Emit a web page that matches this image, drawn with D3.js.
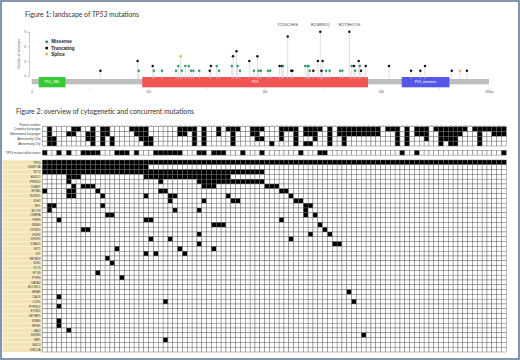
<!DOCTYPE html>
<html>
<head>
<meta charset="utf-8">
<script src="https://cdn.jsdelivr.net/npm/d3@7"></script>
<style>
  body { margin: 0; background: #fff; }
  svg { display: block; }
</style>
</head>
<body>
<div id="chart"></div>
<script>
// ---- Figure 1: TP53 lollipop data ----
const proteinLength = 393;
const mutPos   = [59, 91, 92, 104, 105, 112, 124, 126, 128, 129, 132, 135, 137, 139, 144, 153, 154, 159, 161, 172, 173, 176, 177, 179, 187, 191, 194, 195, 197, 203, 205, 213, 215, 216, 220, 223, 224, 235, 237, 238, 239, 242, 246, 248, 250, 249, 253, 256, 265, 267, 273, 275, 277, 278, 281, 282, 283, 287, 307, 326, 334, 338, 361, 368, 374];
const mutCount = [1, 3, 1, 2, 1, 1, 1, 2, 4, 1, 2, 2, 1, 1, 1, 1, 2, 2, 1, 2, 4, 5, 2, 1, 3, 1, 4, 1, 1, 1, 1, 2, 2, 2, 8, 1, 1, 2, 2, 2, 1, 1, 3, 9, 3, 1, 1, 1, 1, 1, 9, 2, 2, 1, 3, 2, 1, 2, 2, 1, 1, 2, 1, 1, 1];
const mutType  = ["T", "T", "M", "T", "M", "M", "M", "M", "S", "M", "M", "M", "M", "M", "M", "T", "T", "M", "M", "M", "T", "T", "M", "M", "T", "M", "T", "M", "M", "M", "M", "T", "T", "M", "T", "T", "T", "M", "M", "M", "M", "T", "T", "T", "T", "T", "M", "M", "M", "M", "T", "M", "T", "M", "T", "M", "T", "T", "T", "T", "T", "T", "T", "S", "T"];
const hotspotPos    = [220, 248, 273];
const hotspotLabels = ["Y220C/H/S", "R248W/Q", "R273H/C/G"];
const domainNames  = ["P53_TAD", "P53", "P53_tetramer"];
const domainStart  = [6, 95, 318];
const domainEnd    = [29, 289, 359];
const legendNames  = ["Missense", "Truncating", "Splice"];
const legendKeys   = ["M", "T", "S"];

// ---- Figure 2: cytogenetics / co-mutation grid ----
const nPatients = 96;
const headerNames = ["Complex karyotype", "Monosomal karyotype", "Abnormality 5/5q", "Abnormality 17p"];
const complexKaryo   = "1,6,7,10,12,13,18-21,28-31,33,36,38-40,43-45,49-52,54-57,59,61-69,71-73,75,77-79,81-87,89-95";
const monosomalKaryo = "1,5,6,9,10,12,13,19-21,28,29,31,33,36,39,43,44,49,52,54-56,59,61-69,73,75,77-79,82-86,90,93-95";
const abn5           = "1,2,9,10,12,14,20-22,31,33,39,44,45,49,52,56,59,62,73,75,79,82-85,90";
const abn17p         = "1,2,10,12,14,21,22,31,33,39,47,52,54,55,59,62,73,75,82,84,85,90";
const tp53Status     = "0,3,5,8-11,15-17,19,23-28,32,33,35-37,41,45,53,57,58,74,77,95";

const geneNames = ["TP53", "DNMT3A", "TET2", "ASXL1", "PPM1D", "U2AF1", "SF3B1", "RUNX1", "IDH2", "NF1",
  "BCOR", "CEBPA", "PHF6", "NRAS", "ZRSR2", "EZH2", "SRSF2", "STAG2", "WT1", "KIT",
  "ZBTB33", "IDH1", "FLT3", "ETV6", "PTEN", "GATA2", "BCORL1", "BRAF", "CALR", "CUX1",
  "PTPN11", "ETNK1", "SETBP1", "KRAS", "NPM1", "JAK2", "SH2B3", "MPL", "SMC3", "SMC1A"];
const geneHits = ["0-95", "0-21", "0-45", "5-7,21-38", "5,24,32-45", "6,8-10,33-35,46-48", "0,5,6,11,24,25,49,50",
  "5,6,12,21,26,27,38,51", "26,33,39,40,52,53", "1,2,12,54,55",
  "1,27,32,54", "13,14,54,56", "3,21,22,49", "35-37,57", "8,9,58", "32,55,59", "22,26,51", "32,60,61", "15,28,35", "21,23,29",
  "13", "14", "", "11", "16", "", "", "63", "3", "25,64",
  "3", "", "", "3", "3", "5", "66", "25", "", ""];

function expand(s) {
  if (!s) return [];
  return s.split(",").flatMap(p => {
    const [a, b] = p.split("-").map(Number);
    return b === undefined ? [a] : d3.range(a, b + 1);
  });
}

const W = 520, H = 360;
const svg = d3.select("#chart").append("svg").attr("width", W).attr("height", H);
svg.append("rect").attr("x", 1).attr("y", 1).attr("width", W - 2).attr("height", H - 2)
  .attr("fill", "#fff").attr("stroke", "#8497aa").attr("stroke-width", 2);

const typeColor = { M: "#2e9c62", T: "#111", S: "#e3b545" };

// ================= Figure 1 =================
const t1 = svg.append("text").attr("x", 25).attr("y", 17)
  .style("font-family", "Lato, 'Open Sans', sans-serif").style("font-size", "6.8px").attr("fill", "#333");
t1.append("tspan").text("Figure 1: landscape of ");
t1.append("tspan").style("font-style", "italic").text("TP53");
t1.append("tspan").text(" mutations");

const x1 = d3.scaleLinear().domain([0, proteinLength]).range([31.7, 489]);
const y1 = d3.scaleLinear().domain([0, 9]).range([75.7, 31.7]);
const barTop = 79, barBot = 84.3;

// y axis
const yAx = svg.append("g").attr("transform", "translate(29,0)")
  .call(d3.axisLeft(y1).tickValues([0, 3, 6, 9]).tickSize(1.5).tickPadding(1.5));
yAx.selectAll("path,line").attr("stroke", "#999").attr("stroke-width", 0.5);
yAx.selectAll("text").style("font-size", "3px").attr("fill", "#555").style("font-family", "Liberation Sans, Arial");
svg.append("text").attr("transform", "translate(19.5,54) rotate(-90)")
  .attr("text-anchor", "middle").style("font-size", "3.2px").style("font-family", "Liberation Sans, Arial")
  .attr("fill", "#555").text("Number of mutations");

// protein backbone + domains
svg.append("rect").attr("x", x1(0)).attr("y", barTop).attr("width", x1(proteinLength) - x1(0))
  .attr("height", barBot - barTop).attr("fill", "#bebebe");
const domainColors = ["#35c935", "#f25454", "#5656e8"];
const dg = svg.selectAll(".dom").data(domainNames).enter().append("g");
dg.append("rect").attr("x", (d, i) => x1(domainStart[i])).attr("y", 77)
  .attr("width", (d, i) => x1(domainEnd[i]) - x1(domainStart[i])).attr("height", 10.3)
  .attr("fill", (d, i) => domainColors[i]);
dg.append("text").attr("x", (d, i) => (x1(domainStart[i]) + x1(domainEnd[i])) / 2).attr("y", 83.4)
  .attr("text-anchor", "middle").style("font-size", "3.6px").style("font-family", "Liberation Sans, Arial")
  .attr("fill", "#fff").text(d => d);

// x axis
const xAx = svg.append("g").attr("transform", `translate(0,${88.3})`)
  .call(d3.axisBottom(x1).tickValues([0, 50, 100, 150, 200, 250, 300, 350, 393]).tickSize(1.2).tickPadding(1.5)
    .tickFormat(d => d === 393 ? "393aa" : (d % 100 === 0 ? d : "")));
xAx.select(".domain").remove();
xAx.selectAll("line").attr("stroke", "#aaa").attr("stroke-width", 0.5);
xAx.selectAll("text").style("font-size", "3px").attr("fill", "#555").style("font-family", "Liberation Sans, Arial");

// lollipops
const muts = mutPos.map((p, i) => ({ pos: p, count: mutCount[i], type: mutType[i] }));
svg.selectAll(".stem").data(muts).enter().append("line")
  .attr("x1", d => x1(d.pos)).attr("x2", d => x1(d.pos))
  .attr("y1", d => y1(d.count)).attr("y2", barTop)
  .attr("stroke", "#c9c9c9").attr("stroke-width", 0.6);
svg.selectAll(".dot").data(muts).enter().append("circle")
  .attr("cx", d => x1(d.pos)).attr("cy", d => y1(d.count)).attr("r", 1.25)
  .attr("fill", d => typeColor[d.type]);
svg.selectAll(".hot").data(hotspotLabels).enter().append("text")
  .attr("x", (d, i) => x1(hotspotPos[i])).attr("y", 25.5).attr("text-anchor", "middle")
  .style("font-size", "4.2px").style("font-family", "Liberation Sans, Arial").attr("fill", "#444").text(d => d);

// legend
const lg = svg.selectAll(".leg").data(legendNames).enter().append("g")
  .attr("transform", (d, i) => `translate(46.7,${41.7 + i * 6.2})`);
lg.append("circle").attr("r", 1.5).attr("fill", (d, i) => typeColor[legendKeys[i]]);
lg.append("text").attr("x", 4.5).attr("y", 1.6).style("font-size", "4.6px").style("font-weight", "bold")
  .style("font-family", "Liberation Sans, Arial").attr("fill", "#222").text(d => d);

// ================= Figure 2 =================
svg.append("text").attr("x", 16).attr("y", 114)
  .style("font-family", "Lato, 'Open Sans', sans-serif").style("font-size", "6.8px").attr("fill", "#333")
  .text("Figure 2: overview of cytogenetic and concurrent mutations");

const gridL = 42.3, gridR = 506.3;
const xc = d3.scaleBand().domain(d3.range(nPatients)).range([gridL, gridR]);
const yHead = d3.scaleBand().domain(headerNames).range([126.7, 146]);
const yGene = d3.scaleBand().domain(geneNames).range([160, 352]);
const tpTop = 150.3, tpH = 4.8;
const labelFont = "Liberation Sans, Arial";

function drawRow(y, h, hits) {
  const set = new Set(expand(hits));
  svg.append("g").selectAll("rect").data(d3.range(nPatients)).enter().append("rect")
    .attr("x", c => xc(c)).attr("y", y).attr("width", xc.bandwidth()).attr("height", h)
    .attr("fill", c => set.has(c) ? "#000" : "#fff")
    .attr("stroke", "#666").attr("stroke-width", 0.45);
}
function rowLabel(y, text) {
  svg.append("text").attr("x", 40.5).attr("y", y).attr("text-anchor", "end")
    .style("font-size", "3.1px").style("font-family", labelFont).attr("fill", "#444").text(text);
}

// patient number row
svg.append("g").selectAll("text").data(d3.range(1, nPatients + 1)).enter().append("text")
  .attr("x", (d, i) => xc(i) + xc.bandwidth() / 2).attr("y", 126).attr("text-anchor", "middle")
  .style("font-size", "2px").style("font-family", labelFont).attr("fill", "#777").text(d => d);
rowLabel(126, "Patient number");

const headerHits = [complexKaryo, monosomalKaryo, abn5, abn17p];
headerNames.forEach((n, i) => {
  drawRow(yHead(n), yHead.bandwidth(), headerHits[i]);
  rowLabel(yHead(n) + yHead.bandwidth() * 0.75, n);
});

drawRow(tpTop, tpH, tp53Status);
rowLabel(tpTop + 3.5, "TP53 mutant allele status");

// gene label column
svg.append("rect").attr("x", 2.5).attr("y", 160).attr("width", gridL - 2.5).attr("height", 192)
  .attr("fill", "#f3e4b5");
geneNames.forEach((g, i) => {
  svg.append("line").attr("x1", 2.5).attr("x2", gridL).attr("y1", yGene(g)).attr("y2", yGene(g))
    .attr("stroke", "#fff").attr("stroke-width", 0.5);
  drawRow(yGene(g), yGene.bandwidth(), geneHits[i]);
  rowLabel(yGene(g) + yGene.bandwidth() * 0.75, g);
});
</script>
</body>
</html>
